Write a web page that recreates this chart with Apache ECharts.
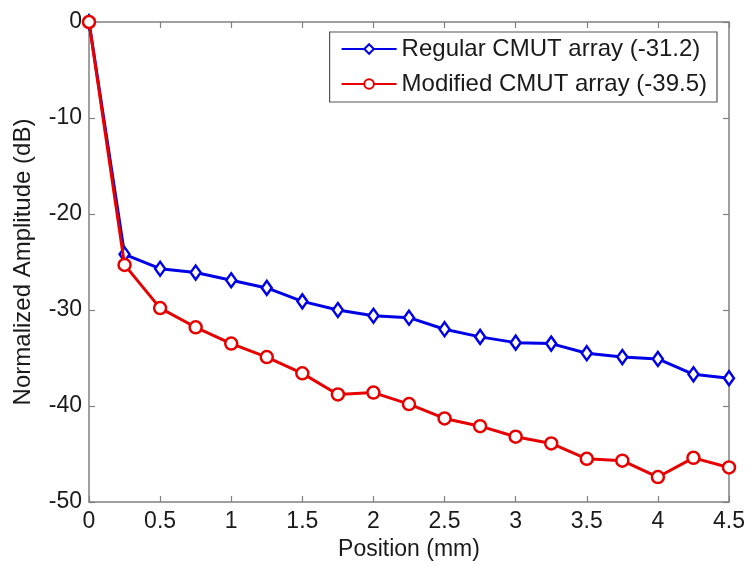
<!DOCTYPE html>
<html>
<head>
<meta charset="utf-8">
<script src="https://cdn.jsdelivr.net/npm/echarts@6/dist/echarts.min.js"></script>
<style>
  html, body { margin: 0; padding: 0; background: #fff; }
  #chart { width: 751px; height: 566px; }
</style>
</head>
<body>
<div id="chart"></div>
<script>
// position (mm)
const positions = [0, 0.25, 0.5, 0.75, 1, 1.25, 1.5, 1.75, 2, 2.25, 2.5, 2.75, 3, 3.25, 3.5, 3.75, 4, 4.25, 4.5]
const regularCmut = [0, -24.2, -25.7, -26.1, -26.9, -27.7, -29.1, -30.0, -30.6, -30.8, -32.0, -32.8, -33.4, -33.5, -34.5, -34.9, -35.1, -36.7, -37.1]
const modifiedCmut = [0, -25.3, -29.8, -31.8, -33.5, -34.9, -36.6, -38.8, -38.6, -39.8, -41.3, -42.1, -43.2, -43.9, -45.5, -45.7, -47.4, -45.4, -46.4]
const seriesNames = ['Regular CMUT array (-31.2)', 'Modified CMUT array (-39.5)']

const axisGray = '#808080'
const textColor = '#1a1a1a'
const fontFamily = 'Liberation Sans, Arial, sans-serif'

const pairs = values => positions.map((x, i) => [x, values[i]])

const chart = echarts.init(document.getElementById('chart'))

// matlab style box: ticks inside, on all four sides
const frameAxis = {
    axisLine: { show: true, onZero: false, lineStyle: { color: axisGray, width: 1.5 } },
    axisTick: { show: true, inside: true, length: 6, lineStyle: { color: axisGray, width: 1.2 } },
    splitLine: { show: false },
}

chart.setOption({
    animation: false,
    textStyle: { fontFamily },
    grid: { left: 89, right: 22, top: 22, bottom: 61 },
    legend: {
        right: 34,
        top: 32,
        orient: 'vertical',
        itemWidth: 55,
        itemHeight: 12,
        itemGap: 11,
        padding: [5, 10, 6, 11],
        borderColor: '#555',
        borderWidth: 1.2,
        borderRadius: 0,
        backgroundColor: '#fff',
        textStyle: { fontSize: 24, color: textColor, fontFamily },
        data: seriesNames,
    },
    xAxis: [
        {
            type: 'value', min: 0, max: 4.5, interval: 0.5,
            name: 'Position (mm)', nameLocation: 'middle', nameGap: 36,
            nameTextStyle: { fontSize: 23, color: textColor },
            axisLabel: { fontSize: 23, color: textColor, margin: 8 },
            ...frameAxis,
        },
        {
            type: 'value', min: 0, max: 4.5, interval: 0.5, position: 'top',
            axisLabel: { show: false },
            ...frameAxis,
        },
    ],
    yAxis: [
        {
            type: 'value', min: -50, max: 0, interval: 10,
            name: 'Normalized Amplitude (dB)', nameLocation: 'middle', nameGap: 54,
            nameTextStyle: { fontSize: 24, color: textColor },
            axisLabel: { fontSize: 23, color: textColor, margin: 7 },
            ...frameAxis,
        },
        {
            type: 'value', min: -50, max: 0, interval: 10, position: 'right',
            axisLabel: { show: false },
            ...frameAxis,
        },
    ],
    series: [
        {
            name: seriesNames[0],
            type: 'line',
            data: pairs(regularCmut),
            symbol: 'diamond',
            symbolSize: [10, 14],
            lineStyle: { color: '#0000e6', width: 3 },
            itemStyle: { color: '#ffffff', borderColor: '#0000e6', borderWidth: 2.5 },
            z: 2,
        },
        {
            name: seriesNames[1],
            type: 'line',
            data: pairs(modifiedCmut),
            symbol: 'circle',
            symbolSize: 12,
            lineStyle: { color: '#e60000', width: 3 },
            itemStyle: { color: '#ffffff', borderColor: '#e60000', borderWidth: 2.5 },
            z: 3,
        },
    ],
})
</script>
</body>
</html>
